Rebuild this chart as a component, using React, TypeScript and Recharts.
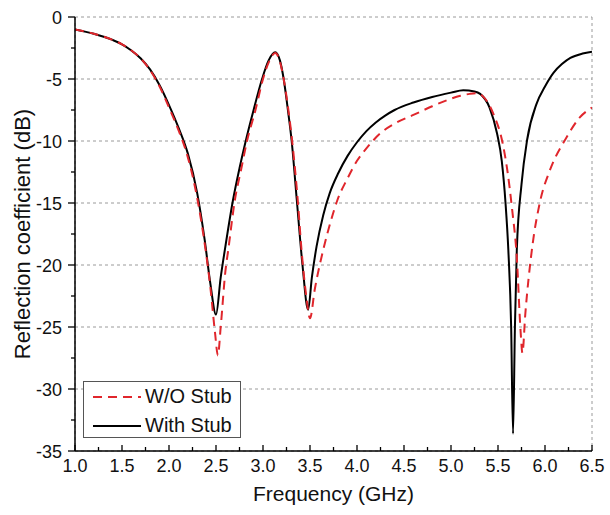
import React from "react";
import { LineChart, Line, XAxis, YAxis, CartesianGrid, Legend } from "recharts";

// ---- data ----
const seriesNames = ["W/O Stub", "With Stub"];

const freqWith = [
  1.0, 1.2, 1.4, 1.5, 1.6, 1.7, 1.8, 1.9, 2.0, 2.1, 2.2, 2.3, 2.38, 2.44, 2.5, 2.55, 2.6, 2.68,
  2.75, 2.81, 2.9, 2.99, 3.06, 3.13, 3.18, 3.22, 3.265, 3.305, 3.36, 3.42, 3.48, 3.52, 3.57,
  3.64, 3.71, 3.8, 3.9, 4.0, 4.1, 4.2, 4.3, 4.4, 4.6, 4.8, 5.0, 5.13, 5.25, 5.31, 5.41, 5.49,
  5.54, 5.58, 5.61, 5.64, 5.66, 5.68, 5.7, 5.75, 5.81, 5.91, 6.0, 6.09, 6.18, 6.27, 6.4, 6.5,
];
const s11With = [
  -1.0, -1.35, -1.85, -2.2, -2.7, -3.35, -4.25, -5.5, -7.1, -8.9, -11.0, -14.2, -18.0, -21.5,
  -24.0, -21.0, -18.5, -14.8, -12.2, -10.2, -7.5, -5.0, -3.5, -2.85, -3.5, -5.0, -7.5, -10.0,
  -14.8, -20.0, -23.6, -21.0, -18.5, -16.0, -14.2, -12.6, -11.2, -10.1, -9.2, -8.5, -7.95,
  -7.5, -6.9, -6.45, -6.1, -5.9, -6.0, -6.2, -7.3, -9.4, -11.6, -15.0, -18.8, -25.0, -33.6,
  -25.0, -18.8, -13.5, -9.9, -7.0, -5.6, -4.5, -3.8, -3.3, -2.95, -2.8,
];

const freqWithout = [
  1.0, 1.2, 1.4, 1.5, 1.6, 1.7, 1.8, 1.9, 2.0, 2.1, 2.2, 2.3, 2.38, 2.44, 2.49, 2.52, 2.55,
  2.6, 2.63, 2.7, 2.77, 2.83, 2.92, 3.0, 3.07, 3.13, 3.18, 3.22, 3.27, 3.31, 3.37, 3.41, 3.46,
  3.5, 3.55, 3.64, 3.72, 3.79, 3.9, 4.0, 4.1, 4.245, 4.4, 4.6, 4.8, 4.96, 5.1, 5.2, 5.27, 5.34,
  5.45, 5.55, 5.6, 5.65, 5.7, 5.74, 5.76, 5.79, 5.86, 5.95, 6.05, 6.23, 6.37, 6.5,
];
const s11Without = [
  -1.0, -1.35, -1.85, -2.2, -2.7, -3.35, -4.3, -5.6, -7.3, -9.1, -11.3, -14.6, -18.3, -21.8,
  -25.5, -27.3, -25.0, -20.5, -18.8, -14.8, -12.2, -10.0, -7.5, -5.0, -3.5, -2.9, -3.6, -5.0,
  -7.5, -10.0, -14.8, -18.8, -22.5, -24.3, -22.0, -18.8, -16.5, -14.8, -13.0, -11.6, -10.6,
  -9.4, -8.6, -7.9, -7.2, -6.7, -6.35, -6.2, -6.15, -6.4, -7.8, -10.2, -12.4, -15.5, -19.4,
  -25.3, -27.1, -24.0, -18.8, -14.8, -12.4, -9.7, -8.1, -7.3,
];

const xMajor = [1.0, 1.5, 2.0, 2.5, 3.0, 3.5, 4.0, 4.5, 5.0, 5.5, 6.0, 6.5];
const xMinor = [1.25, 1.75, 2.25, 2.75, 3.25, 3.75, 4.25, 4.75, 5.25, 5.75, 6.25];
const yMajor = [0, -5, -10, -15, -20, -25, -30, -35];
const yMinor = [-2.5, -7.5, -12.5, -17.5, -22.5, -27.5, -32.5];

const withData = freqWith.map((f, i) => ({ f, v: s11With[i] }));
const withoutData = freqWithout.map((f, i) => ({ f, v: s11Without[i] }));

const FONT = "'Liberation Sans', Arial, Helvetica, sans-serif";
const RED = "#e0262c";
const M = 10;

const isMajorX = (v: number) => xMajor.some((m) => Math.abs(m - v) < 1e-6);
const isMajorY = (v: number) => yMajor.some((m) => Math.abs(m - v) < 1e-6);

const BottomTick = (props: any) => {
  const { x, y, payload } = props;
  const axisY = y - M;
  const major = isMajorX(payload.value);
  return (
    <g>
      <line x1={x} x2={x} y1={axisY} y2={axisY - (major ? 6 : 4)} stroke="#000" strokeWidth={1.3} />
      {major && (
        <text x={x} y={axisY + 21} textAnchor="middle" fontSize={18} fontFamily={FONT} fill="#111">
          {payload.value.toFixed(1)}
        </text>
      )}
    </g>
  );
};

const LeftTick = (props: any) => {
  const { x, y, payload } = props;
  const axisX = x + M;
  const major = isMajorY(payload.value);
  return (
    <g>
      <line x1={axisX} x2={axisX - (major ? 7 : 4)} y1={y} y2={y} stroke="#000" strokeWidth={1.3} />
      {major && (
        <text x={axisX - 13} y={y + 6.5} textAnchor="end" fontSize={18} fontFamily={FONT} fill="#111">
          {payload.value}
        </text>
      )}
    </g>
  );
};

const TopTick = (props: any) => {
  const { x, y } = props;
  const axisY = y + M;
  return <line x1={x} x2={x} y1={axisY} y2={axisY + 6} stroke="#000" strokeWidth={1.3} />;
};

const RightTick = (props: any) => {
  const { x, y } = props;
  const axisX = x - M;
  return <line x1={axisX} x2={axisX - 7} y1={y} y2={y} stroke="#000" strokeWidth={1.3} />;
};

const LegendBox = () => (
  <div
    style={{
      position: "relative",
      width: 158,
      height: 57,
      border: "1px solid #555",
      background: "#fff",
      boxSizing: "border-box",
      fontFamily: FONT,
      fontSize: 20,
      color: "#111",
    }}
  >
    <svg width={60} height={57} style={{ position: "absolute", left: 0, top: 0 }}>
      <line x1={9} x2={57} y1={15} y2={15} stroke={RED} strokeWidth={2} strokeDasharray="9 6" />
      <line x1={9} x2={57} y1={44} y2={44} stroke="#000" strokeWidth={2} />
    </svg>
    <div style={{ position: "absolute", left: 61, top: 3, lineHeight: "23px", whiteSpace: "nowrap" }}>
      {seriesNames[0]}
    </div>
    <div style={{ position: "absolute", left: 61, top: 32, lineHeight: "23px", whiteSpace: "nowrap" }}>
      {seriesNames[1]}
    </div>
  </div>
);

export default function App() {
  return (
    <div style={{ position: "absolute", left: 0, top: 0, width: 610, height: 515, background: "#fff" }}>
      <LineChart width={610} height={515} margin={{ top: 17, right: 18, left: 0, bottom: 0 }}>
        <CartesianGrid xAxisId="top" yAxisId="right" stroke="#9a9a9a" strokeDasharray="3 3" />
        <XAxis
          xAxisId="bottom"
          dataKey="f"
          type="number"
          domain={[1, 6.5]}
          allowDataOverflow
          ticks={[...xMajor, ...xMinor].sort((a, b) => a - b)}
          interval={0}
          height={64}
          tickSize={0}
          tickMargin={M}
          tickLine={false}
          tick={<BottomTick />}
          axisLine={{ stroke: "#000", strokeWidth: 1.5 }}
          label={{ value: "Frequency (GHz)", position: "insideBottom", offset: 14, fontSize: 21, fill: "#111", fontFamily: FONT }}
        />
        <XAxis
          xAxisId="top"
          orientation="top"
          type="number"
          domain={[1, 6.5]}
          allowDataOverflow
          ticks={xMajor}
          interval={0}
          height={0}
          tickSize={0}
          tickMargin={M}
          tickLine={false}
          tick={<TopTick />}
          axisLine={{ stroke: "#000", strokeWidth: 1.5 }}
        />
        <YAxis
          yAxisId="left"
          type="number"
          domain={[-35, 0]}
          allowDataOverflow
          ticks={[...yMajor, ...yMinor].sort((a, b) => b - a)}
          interval={0}
          width={75}
          tickSize={0}
          tickMargin={M}
          tickLine={false}
          tick={<LeftTick />}
          axisLine={{ stroke: "#000", strokeWidth: 1.5 }}
          label={{
            value: "Reflection coefficient (dB)",
            angle: -90,
            position: "insideLeft",
            offset: 22,
            fontSize: 22,
            fill: "#111",
            fontFamily: FONT,
            style: { textAnchor: "middle" },
          }}
        />
        <YAxis
          yAxisId="right"
          orientation="right"
          type="number"
          domain={[-35, 0]}
          allowDataOverflow
          ticks={yMajor}
          interval={0}
          width={0}
          tickSize={0}
          tickMargin={M}
          tickLine={false}
          tick={<RightTick />}
          axisLine={{ stroke: "#000", strokeWidth: 1.5 }}
        />
        <Line
          xAxisId="bottom"
          yAxisId="left"
          data={withData}
          dataKey="v"
          name={seriesNames[1]}
          type="monotone"
          stroke="#000"
          strokeWidth={2}
          dot={false}
          isAnimationActive={false}
        />
        <Line
          xAxisId="bottom"
          yAxisId="left"
          data={withoutData}
          dataKey="v"
          name={seriesNames[0]}
          type="monotone"
          stroke={RED}
          strokeWidth={2}
          strokeDasharray="9 6"
          dot={false}
          isAnimationActive={false}
        />
        <Legend
          layout="horizontal"
          verticalAlign="middle"
          align="center"
          content={<LegendBox />}
          wrapperStyle={{ left: 83, top: 381, width: 158, height: 57 }}
        />
      </LineChart>
    </div>
  );
}
